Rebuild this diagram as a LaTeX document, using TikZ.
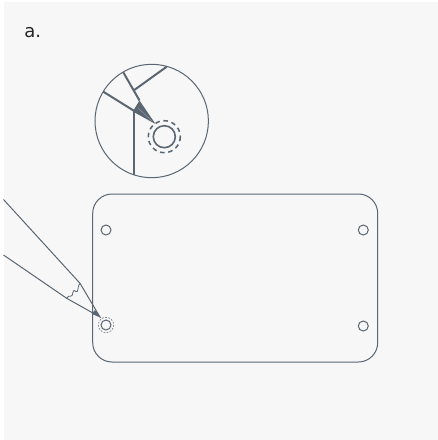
\documentclass[tikz,border=0pt]{standalone}
\usepackage{fontspec}
\setmainfont{DejaVu Sans}
\definecolor{ink}{HTML}{5A6672}
\definecolor{bg}{HTML}{F7F7F7}
\tikzset{x=0.75pt,y=-0.75pt,
 thin line/.style={draw=ink,line width=0.75pt},
 thick line/.style={draw=ink,line width=1.5pt},
 dash ring/.style={draw=ink!80,line width=0.55pt,dash pattern=on 1.3pt off 1.1pt},
 big dash ring/.style={draw=ink,line width=1.15pt,dash pattern=on 3.4pt off 2.8pt}}
\begin{document}
\begin{tikzpicture}
\useasboundingbox (0,0) rectangle (438,440);
\fill[bg] (4,2) rectangle (438,440);
\node[anchor=base west,inner sep=0pt,font=\fontsize{13.5}{16}\selectfont,text=black!85] (lab) at (24,37) {a.};
% board
\draw[thin line,rounded corners=14.5pt] (92.7,194) rectangle (377.7,362);
\foreach \a/\b in {106/230,363.3/230,363.3/326}{\draw[thin line] (\a,\b) circle (5);}
\coordinate (h) at (106,325);
\draw[thin line] (h) circle (5);
\draw[dash ring] (h) circle (7.7);
% small pencil
\coordinate (tip) at (100,317);
\coordinate (u) at (80,283.3);
\coordinate (l) at (66.7,298.3);
\draw[thin line] (3.5,199.5) -- (u) -- (tip) -- (l) -- (3.5,255);
\draw[draw=ink,line width=0.6pt] (l) .. controls (69,293) and (72,300) .. (73,292) .. controls (74,287) and (77,296) .. (78,289) .. controls (78.5,285) and (79,285) .. (u);
\fill[ink] (95,310) -- (91.5,314) -- (tip) -- cycle;
% magnifier
\coordinate (c) at (151.7,121);
\draw[thin line] (c) circle (56.7);
\coordinate (T) at (155.5,124);
\coordinate (A) at (123.3,72.3);
\coordinate (G) at (139.5,100.5);
\coordinate (B) at (103.3,91.7);
\coordinate (C) at (134.3,111);
\coordinate (D) at (134.3,90);
\coordinate (E) at (166.7,66.7);
\coordinate (F) at (134.3,175);
\draw[thick line] (A) -- (G);
\draw[thick line] (B) -- (C);
\draw[thick line] (D) -- (E);
\draw[thick line] (C) -- (F);
\fill[ink] (G) -- (132.8,111.5) -- (T) -- cycle;
\draw[ink!65,line width=0.3pt] (138,108) -- (152,121);
\coordinate (H) at (164.3,136.7);
\draw[draw=ink,line width=1.2pt] (H) circle (11);
\draw[big dash ring] (H) circle (16);
\end{tikzpicture}
\end{document}
